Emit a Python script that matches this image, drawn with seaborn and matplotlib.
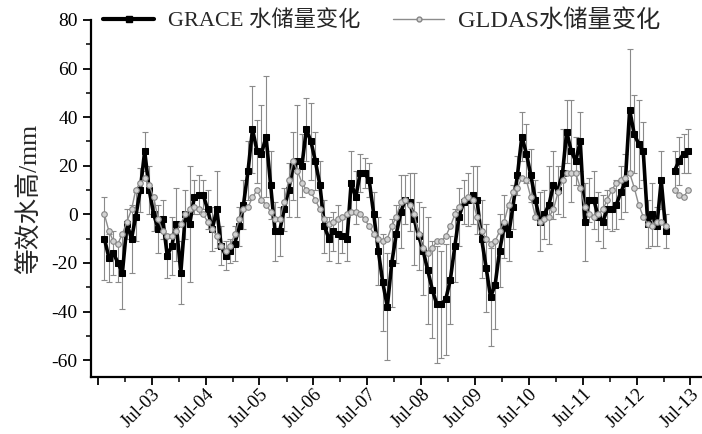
import numpy as np
import pandas as pd
import matplotlib
matplotlib.use('Agg')
import matplotlib.pyplot as plt
import matplotlib.dates as mdates
from matplotlib.lines import Line2D
from matplotlib.ticker import MultipleLocator, FuncFormatter
import seaborn as sns

# monthly series, Aug 2002 .. Jun 2013 (Feb 2013 missing)
months = pd.date_range('2002-08-01', '2013-06-01', freq='MS') + pd.Timedelta(days=14)

grace = [
    -10, -18, -16, -20, -24, -4, -10, -1, 10, 26, 10, 0,
    -6, -2, -17, -13, -4, -24, 0, -4, 7, 8, 8, 2,
    -6, 2, -13, -17, -15, -12, -5, 4, 18, 35, 26, 25,
    32, 12, -7, -7, 2, 10, 20, 22, 20, 35, 30, 22,
    12, -5, -10, -7, -8, -9, -10, 13, 7, 17, 17, 14,
    0, -15, -28, -38, -20, -8, 1, 6, 5, -2, -9, -15,
    -23, -31, -37, -37, -35, -27, -13, -1, 5, 6, 8, 6,
    -10, -22, -34, -29, -15, -5, -8, 3, 16, 32, 25, 16,
    6, -3, 0, 4, 12, 10, 17, 34, 26, 22, 30, -3,
    6, 6, -1, -3, 2, 2, 4, 9, 13, 43, 33, 29,
    26, -4, 0, -5, 14, -7, np.nan, 18, 22, 25, 26,
]
grace_err = [
    17, 10, 9, 8, 15, 6, 14, 10, 9, 8, 10, 7,
    10, 8, 9, 12, 15, 13, 10, 24, 7, 8, 6, 8,
    9, 16, 8, 6, 5, 7, 8, 10, 12, 18, 13, 20,
    25, 14, 12, 10, 9, 11, 14, 23, 13, 13, 16, 12,
    10, 11, 9, 8, 12, 7, 9, 13, 11, 8, 6, 7,
    9, 14, 20, 22, 18, 12, 15, 10, 12, 19, 14, 18,
    22, 20, 24, 22, 23, 18, 15, 12, 9, 11, 12, 14,
    16, 18, 20, 18, 15, 13, 11, 9, 8, 10, 12, 11,
    8, 12, 10, 16, 14, 10, 18, 13, 21, 10, 12, 16,
    9, 12, 10, 11, 8, 9, 10, 11, 12, 25, 16, 18,
    12, 10, 13, 8, 12, 7, np.nan, 8, 10, 8, 9,
]
gldas = [
    0, -7, -11, -12, -8, -3, 2, 10, 13, 15, 12, 7,
    -2, -7, -9, -9, -7, -4, 0, 2, 3, 2, 0, -3,
    -6, -9, -13, -15, -13, -8, -2, 2, 3, 7, 10, 6,
    4, 1, -2, -2, 5, 14, 22, 18, 13, 10, 9, 6,
    2, -2, -4, -3, -2, -1, 0, 1, 1, 0, -2, -5,
    -8, -10, -11, -10, -5, -1, 5, 6, 4, 0, -8, -14,
    -16, -14, -11, -11, -9, -5, 0, 3, 6, 7, 6, -1,
    -7, -10, -12, -11, -7, -3, 4, 9, 11, 15, 14, 7,
    -1, -3, -2, -1, 2, 9, 14, 17, 17, 17, 11, 3,
    0, -1, 0, 2, 6, 10, 13, 14, 15, 17, 11, 4,
    -1, -4, -5, -3, -3, -5, np.nan, 10, 8, 7, 10,
]

label_grace = 'GRACE 水储量变化'
label_gldas = 'GLDAS水储量变化'
ylabel = '等效水高/mm'

df = pd.DataFrame({'date': months, 'grace': grace, 'err': grace_err, 'gldas': gldas})
df['seg'] = (df['date'] > '2013-02-01').astype(int)
df = df.dropna()

sns.set_theme(style='ticks')
plt.rcParams['font.family'] = ['Liberation Serif', 'Noto Sans CJK SC']
plt.rcParams['axes.unicode_minus'] = False

fig = plt.figure(figsize=(7.02, 4.34), dpi=100)
ax = fig.add_axes([0.1296, 0.131, 0.872, 0.823])

ax.errorbar(df['date'], df['grace'], yerr=df['err'], fmt='none', ecolor='#8a8a8a',
            elinewidth=0.8, capsize=2, capthick=0.8, zorder=1)
sns.lineplot(data=df, x='date', y='grace', units='seg', estimator=None, ax=ax,
             color='black', lw=2.6, marker='s', markersize=4.5, markeredgecolor='black',
             zorder=3)
sns.lineplot(data=df, x='date', y='gldas', units='seg', estimator=None, ax=ax,
             color='#8c8c8c', lw=1.0, marker='o', markersize=4, markerfacecolor='#d2d2d2',
             markeredgecolor='#858585', markeredgewidth=0.8, zorder=4)

ax.set_xlim(pd.Timestamp('2002-05-16'), pd.Timestamp('2013-09-25'))
ax.set_ylim(-67, 80)
ax.yaxis.set_major_locator(MultipleLocator(20))
ax.yaxis.set_minor_locator(MultipleLocator(10))
ax.xaxis.set_major_locator(mdates.MonthLocator(bymonth=7))
ax.xaxis.set_minor_locator(mdates.MonthLocator(bymonth=1))
ax.xaxis.set_major_formatter(FuncFormatter(
    lambda v, p: '' if mdates.num2date(v).year == 2002 else mdates.num2date(v).strftime('%b-%y')))

for s in ['top', 'right']:
    ax.spines[s].set_visible(False)
for s in ['left', 'bottom']:
    ax.spines[s].set_linewidth(1.6)
    ax.spines[s].set_color('black')

ax.tick_params(which='major', direction='out', length=6, width=1.3, colors='black', labelsize=14)
ax.tick_params(which='minor', direction='out', length=3.5, width=1.1, colors='black')
ax.tick_params(axis='x', which='major', labelsize=13.5, pad=0)
plt.setp(ax.get_xticklabels(), rotation=45, ha='right', rotation_mode='anchor')
ax.set_xlabel('')
ax.set_ylabel(ylabel, fontsize=18.5, labelpad=7)

handles = [
    Line2D([], [], color='black', lw=3, marker='s', markersize=4),
    Line2D([], [], color='#8c8c8c', lw=1.0, marker='o', markersize=3.5,
           markerfacecolor='#d2d2d2', markeredgecolor='#858585'),
]
leg = ax.legend(handles, [label_grace, label_gldas], loc='center left', bbox_to_anchor=(0.02, 1.0),
                ncol=2, frameon=False, fontsize=16, handlelength=2.3, handletextpad=0.6,
                columnspacing=1.5, borderpad=0, borderaxespad=0)
leg.get_texts()[1].set_fontsize(17.5)

fig.savefig('out.png', dpi=100)
